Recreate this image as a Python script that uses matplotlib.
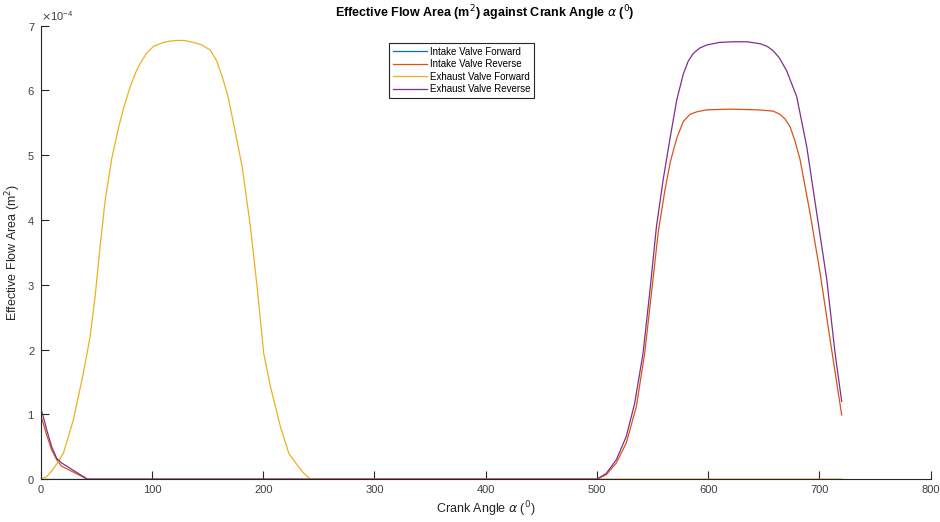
import numpy as np
import matplotlib
matplotlib.use("Agg")
import matplotlib.pyplot as plt
from matplotlib.ticker import ScalarFormatter

plt.rcParams["font.family"] = ["Liberation Sans", "DejaVu Sans"]
plt.rcParams["mathtext.fontset"] = "dejavusans"

# values (area in units of 1e-4 m^2)
int_fwd_ang = [0, 720]
int_fwd = [0, 0]

int_rev_ang = [0, 3, 5.4, 9.9, 14.4, 18.9, 42, 500, 508.4, 517.4, 526.4, 535.4, 542.9, 549,
               555, 561, 566, 571.7, 577.6, 583.6, 590, 598.6, 620, 645, 658.5, 664.6, 669,
               673.6, 678, 682.6, 691.6, 700.6, 709.6, 720]
int_rev = [0.99, 0.82, 0.68, 0.45, 0.30, 0.20, 0, 0, 0.07, 0.25, 0.56, 1.12, 1.94, 2.87,
           3.80, 4.45, 4.90, 5.26, 5.52, 5.63, 5.67, 5.70, 5.71, 5.70, 5.68, 5.63, 5.56,
           5.44, 5.22, 4.93, 4.10, 3.18, 2.15, 0.99]

exh_fwd_ang = [0, 5.4, 10, 15, 20.4, 29.4, 38.4, 44.4, 48.9, 53.4, 57.9, 63.9, 69.9, 74.4,
               80.5, 86, 89.5, 95, 101.4, 110.4, 116, 122.5, 129, 137.5, 145, 152.5, 158,
               163, 168, 173, 181, 188.5, 194.5, 200.5, 206.5, 215.5, 223, 230.5, 236,
               242.5, 720]
exh_fwd = [0, 0.04, 0.13, 0.25, 0.40, 0.92, 1.64, 2.20, 2.82, 3.59, 4.30, 4.95, 5.42, 5.72,
           6.06, 6.30, 6.42, 6.57, 6.68, 6.74, 6.76, 6.77, 6.77, 6.74, 6.70, 6.62, 6.46,
           6.22, 5.93, 5.52, 4.83, 3.90, 2.97, 1.94, 1.43, 0.81, 0.40, 0.22, 0.10,
           0, 0]

exh_rev_ang = [0, 3, 5.4, 9.9, 14.4, 18.9, 42, 500, 508.4, 517.4, 526.4, 533.9, 541.4, 547.4,
               553.5, 559.5, 565.6, 571.7, 577.6, 582, 586.6, 592, 598.6, 610, 622.6, 635,
               646.6, 653, 658.5, 664, 670.6, 679.6, 688.6, 697.6, 706.6, 714.1, 720]
exh_rev = [1.10, 0.92, 0.76, 0.50, 0.32, 0.25, 0, 0, 0.09, 0.30, 0.66, 1.17, 1.94, 2.87,
           3.90, 4.62, 5.25, 5.85, 6.25, 6.45, 6.57, 6.65, 6.70, 6.74, 6.75, 6.75,
           6.72, 6.68, 6.61, 6.50, 6.30, 5.90, 5.13, 4.10, 3.08, 1.94, 1.20]

labels = ["Intake Valve Forward", "Intake Valve Reverse",
          "Exhaust Valve Forward", "Exhaust Valve Reverse"]
colors = ["#0072BD", "#D95319", "#EDB120", "#7E2F8E"]

fig = plt.figure(figsize=(9.4, 5.22), dpi=100)
ax = fig.add_axes([0.0433, 0.082, 0.9468, 0.869])

series = [(int_fwd_ang, int_fwd), (int_rev_ang, int_rev),
          (exh_fwd_ang, exh_fwd), (exh_rev_ang, exh_rev)]
for (a, v), lab, c in zip(series, labels, colors):
    ax.plot(a, np.array(v) * 1e-4, color=c, lw=0.9, label=lab)

ax.set_xlim(0, 800)
ax.set_ylim(0, 7e-4)
ax.set_xticks(range(0, 801, 100))
ax.set_yticks(np.arange(0, 8) * 1e-4)

fmt = ScalarFormatter(useMathText=True)
fmt.set_powerlimits((-3, 3))
ax.yaxis.set_major_formatter(fmt)
ax.yaxis.get_offset_text().set_fontsize(8)
ax.yaxis.get_offset_text().set_color("#404040")

for s in ["top", "right"]:
    ax.spines[s].set_visible(False)
for s in ["left", "bottom"]:
    ax.spines[s].set_color("#262626")
    ax.spines[s].set_linewidth(0.8)
ax.tick_params(direction="in", length=6, width=0.8, color="#262626",
               labelsize=8, labelcolor="#404040", pad=4)

# title placed on the figure so the offset text does not push it up
fig.text(0.516, 0.975, r"Effective Flow Area (m$^2$) against Crank Angle $\alpha$ ($^0$)",
         fontsize=9, fontweight="bold", ha="center", va="center")
ax.set_xlabel(r"Crank Angle $\alpha$ ($^0$)", fontsize=9, color="#262626", labelpad=3)
ax.set_ylabel(r"Effective Flow Area (m$^2$)", fontsize=9, color="#262626", labelpad=3)

leg = ax.legend(loc="upper left", bbox_to_anchor=(0.391, 0.962), fontsize=7,
                fancybox=False, framealpha=1, edgecolor="#262626",
                handlelength=3.5, handletextpad=0.3, borderpad=0.4,
                labelspacing=0.25, borderaxespad=0)
leg.get_frame().set_linewidth(0.8)

fig.savefig("out.png", dpi=100)
